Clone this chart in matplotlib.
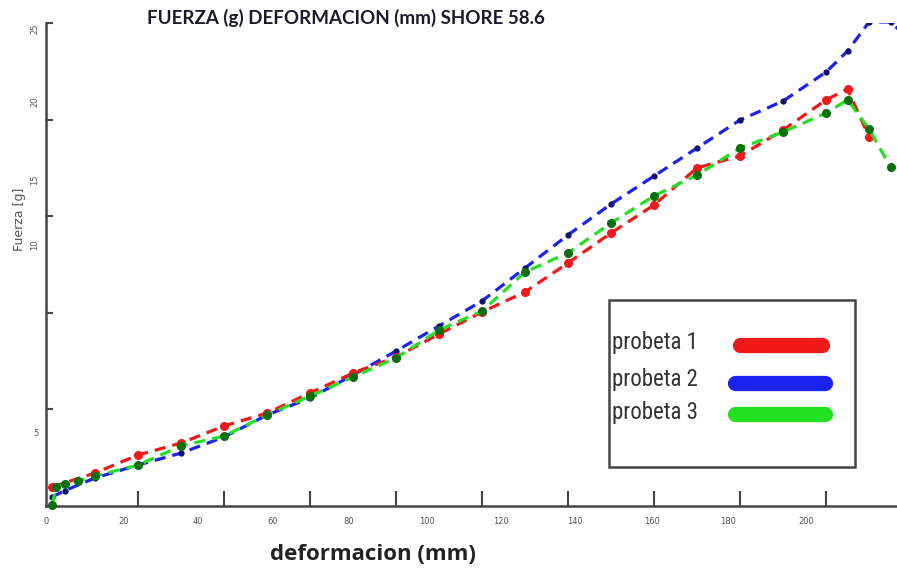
import matplotlib
matplotlib.use("Agg")
import matplotlib.pyplot as plt
from matplotlib.patches import Rectangle

# deformacion (mm) / fuerza (g)
x_p1 = [0, 10, 20, 30, 40, 50, 60, 70, 80, 90, 100, 110, 120, 130, 140, 150, 160, 170, 180, 185, 190]
y_p1 = [0.98, 1.71, 2.64, 3.26, 4.14, 4.81, 5.85, 6.88, 7.71, 8.90, 10.04, 11.08, 12.58, 14.13,
        15.58, 17.50, 18.12, 19.46, 21.02, 21.58, 19.10]

x_p2 = [0, 3, 10, 20, 30, 40, 50, 60, 70, 80, 90, 100, 110, 120, 130, 140, 150, 160, 170, 180,
        185, 190, 195, 200]
y_p2 = [0.47, 0.80, 1.45, 2.12, 2.74, 3.57, 4.71, 5.59, 6.78, 8.02, 9.32, 10.61, 12.32, 14.03,
        15.63, 17.08, 18.53, 19.98, 20.96, 22.46, 23.55, 25.05, 25.05, 24.02]

x_p3 = [0, 1, 3, 6, 10, 20, 30, 40, 50, 60, 70, 80, 90, 100, 110, 120, 130, 140, 150, 160, 170,
        180, 185, 190, 195]
y_p3 = [0.05, 0.98, 1.14, 1.29, 1.55, 2.12, 3.11, 3.62, 4.71, 5.69, 6.68, 7.66, 9.11, 10.09,
        12.11, 13.10, 14.65, 16.05, 17.13, 18.53, 19.36, 20.34, 21.02, 19.51, 17.55]

series_names = ["probeta 1", "probeta 2", "probeta 3"]

# the scanned axis has tick marks and labels that do not line up
y_tick_marks = [0, 5, 10, 15, 20, 25]
y_label_pos = [0.0, 3.78, 13.5, 16.9, 20.9, 24.7]
y_label_txt = ["0", "5", "10", "15", "20", "25"]
x_tick_marks = [20, 40, 60, 80, 100, 120, 140, 160, 180]
x_label_pos = [-1.4, 16.6, 33.9, 51.3, 69.1, 87.1, 104.4, 121.7, 139.5, 157.3, 175.3]
x_label_txt = ["0", "20", "40", "60", "80", "100", "120", "140", "160", "180", "200"]

fig = plt.figure(figsize=(8.97, 5.72), dpi=100)
ax = fig.add_axes([46/897, 66/572, 851/897, 483/572])
ax.set_xlim(0, 196.5)
ax.set_ylim(0, 25)

red = "#f01818"
blue = "#1a22f0"
green = "#22e022"

ax.plot(x_p1, y_p1, ls=(0, (3.5, 2.2)), lw=2.3, color=red, marker="o", ms=5.5,
        mfc=red, mec=red, clip_on=False, zorder=3)
ax.plot(x_p2, y_p2, ls=(0, (3.5, 2.2)), lw=2.3, color=blue, marker="o", ms=3.5,
        mfc="#101070", mec="#101070", clip_on=True, zorder=2)
ax.plot(x_p3, y_p3, ls=(0, (3.5, 2.2)), lw=2.3, color=green, marker="o", ms=5.5,
        mfc="#0d6e0d", mec="#0d6e0d", clip_on=False, zorder=4)

for s in ["top", "right"]:
    ax.spines[s].set_visible(False)
for s in ["left", "bottom"]:
    ax.spines[s].set_linewidth(1.8)
    ax.spines[s].set_color("#444444")

ax.set_yticks(y_tick_marks, [""] * len(y_tick_marks))
ax.set_xticks(x_tick_marks, [""] * len(x_tick_marks))
ax.tick_params(axis="y", which="major", direction="in", length=5, width=1.5, color="#444444")
ax.tick_params(axis="x", which="major", direction="in", length=11, width=1.5, color="#444444")

ax.set_yticks(y_label_pos, y_label_txt, minor=True)
ax.set_xticks(x_label_pos, x_label_txt, minor=True)
ax.tick_params(axis="y", which="minor", length=0, pad=5, labelsize=6, labelcolor="#555555")
ax.tick_params(axis="x", which="minor", length=0, pad=8, labelsize=6, labelcolor="#555555")
for lab in ax.get_yticklabels(minor=True)[1:]:
    lab.set_rotation(90)
    lab.set_va("center")

fig.text(20/897, 1 - 219/572, "Fuerza [g]", rotation=90, ha="center", va="center",
         fontsize=9, color="#555555")
fig.text(346/897, 1 - 18/572, "FUERZA (g) DEFORMACION (mm) SHORE 58.6", ha="center",
         va="center", fontsize=13.5, fontweight="bold", family="Lato", color="#1a1a2a")
fig.text(373/897, 1 - 555/572, "deformacion (mm)", ha="center", va="center",
         fontsize=16, fontweight="bold", family="Open Sans", color="#222222")

# hand-made legend box
ax.add_patch(Rectangle((0.6616, 0.0807), 0.2891, 0.3458, transform=ax.transAxes,
                       fill=False, lw=1.8, ec="#444444", zorder=5))
leg_y = [0.3375, 0.2609, 0.1946]
line_y = [0.3333, 0.2547, 0.1905]
line_x = [(0.8155, 0.9119), (0.8097, 0.9154), (0.8097, 0.9154)]
for name, ty, ly, lx, c in zip(series_names, leg_y, line_y, line_x, [red, blue, green]):
    ax.text(0.665, ty, name, transform=ax.transAxes, ha="left", va="center",
            fontsize=16.5, color="#333333",
            family=["Liberation Sans Narrow", "Roboto Condensed", "DejaVu Sans"])
    ax.plot(lx, [ly, ly], transform=ax.transAxes, lw=11, color=c,
            solid_capstyle="round", zorder=6)

fig.savefig("out.png", dpi=100)
